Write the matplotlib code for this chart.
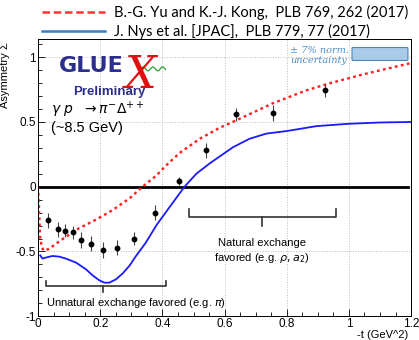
import matplotlib.pyplot as plt
from matplotlib.lines import Line2D
from matplotlib.patches import FancyBboxPatch
import numpy as np

plt.rcParams['font.family'] = ['Liberation Sans', 'DejaVu Sans']
plt.rcParams['mathtext.fontset'] = 'dejavusans'

# measured points (GlueX preliminary)
t_data = [0.033, 0.065, 0.088, 0.113, 0.139, 0.17, 0.209, 0.254, 0.31, 0.375, 0.452, 0.539, 0.638, 0.756, 0.923]
sigma_data = [-0.26, -0.33, -0.34, -0.35, -0.41, -0.44, -0.49, -0.47, -0.40, -0.20, 0.047, 0.28, 0.56, 0.571, 0.745]
sigma_err = [0.06, 0.06, 0.05, 0.05, 0.06, 0.06, 0.06, 0.06, 0.05, 0.06, 0.03, 0.06, 0.05, 0.06, 0.05]

# Yu & Kong curve
t_yu = [0.0, 0.003, 0.006, 0.012, 0.019, 0.035, 0.078, 0.132, 0.186, 0.24, 0.294, 0.336, 0.38,
        0.41, 0.455, 0.52, 0.584, 0.64, 0.68, 0.756, 0.864, 0.94, 1.05, 1.2]
sigma_yu = [0.0, -0.17, -0.38, -0.47, -0.495, -0.48, -0.405, -0.32, -0.255, -0.18, -0.09, 0.0, 0.085,
            0.16, 0.26, 0.37, 0.455, 0.515, 0.56, 0.645, 0.745, 0.80, 0.87, 0.955]

# JPAC curve
t_jpac = [0.0065, 0.014, 0.025, 0.046, 0.068, 0.089, 0.122, 0.154, 0.175, 0.197, 0.213, 0.229, 0.25,
          0.272, 0.294, 0.315, 0.347, 0.38, 0.41, 0.442, 0.471, 0.509, 0.552, 0.573, 0.627, 0.68,
          0.734, 0.8, 0.896, 1.0, 1.1, 1.2]
sigma_jpac = [-0.53, -0.555, -0.547, -0.535, -0.54, -0.555, -0.586, -0.638, -0.684, -0.723, -0.741, -0.741, -0.716,
              -0.67, -0.61, -0.535, -0.43, -0.30, -0.2, -0.095, 0.0, 0.10, 0.18, 0.215, 0.305, 0.37,
              0.41, 0.43, 0.468, 0.486, 0.496, 0.5]

xticks = [0, 0.2, 0.4, 0.6, 0.8, 1.0, 1.2]
xticklabels = ['0', '0.2', '0.4', '0.6', '0.8', '1', '1.2']
yticks = [-1, -0.5, 0, 0.5, 1]
yticklabels = ['-1', '-0.5', '0', '0.5', '1']

fig = plt.figure(figsize=(4.19, 3.4), dpi=100)
ax = fig.add_axes([0.091, 0.070, 0.890, 0.815])

ax.set_xlim(0, 1.2)
ax.set_ylim(-1, 1.14)
ax.grid(True, color='#bbbbbb', linestyle=':', linewidth=0.7)
ax.set_xticks(xticks)
ax.set_xticklabels(xticklabels)
ax.set_yticks(yticks)
ax.set_yticklabels(yticklabels)
ax.set_xticks(np.arange(0, 1.21, 0.05), minor=True)
ax.set_yticks(np.arange(-1, 1.11, 0.1), minor=True)
ax.tick_params(direction='in', labelsize=8.5, length=5, width=0.6, pad=1.5)
ax.tick_params(which='minor', direction='in', length=3, width=0.6)
for s in ax.spines.values():
    s.set_linewidth(0.7)

fig.text(0.975, 0.0, '-t (GeV^2)', fontsize=8, ha='right', va='bottom')
ax.set_ylabel('Asymmetry \u03a3', fontsize=8, loc='top')
ax.yaxis.set_label_coords(-0.075, 0.99)

ax.axhline(0, xmin=0, xmax=0.992, color='black', linewidth=2)

ax.plot(t_yu, sigma_yu, color='#ff2020', linestyle=(0, (1.2, 1.4)), linewidth=1.7)
ax.plot(t_jpac, sigma_jpac, color='#1a1aff', linewidth=1.3)
ax.errorbar(t_data, sigma_data, yerr=sigma_err, fmt='o', color='black', ms=3.2,
            elinewidth=0.8, ecolor='#444444', capsize=0, zorder=5)

# brackets
def bracket(x0, x1, xc, y, up, down):
    ax.plot([x0, x0, x1, x1], [y + up, y, y, y + up], color='#333333', lw=1.2)
    ax.plot([xc, xc], [y, y - down], color='#333333', lw=1.2)

bracket(0.025, 0.41, 0.21, -0.77, 0.04, 0.04)
bracket(0.485, 0.96, 0.72, -0.235, 0.065, 0.065)

ax.text(0.72, -0.50, 'Natural exchange\nfavored (e.g. $\\rho, a_2$)', ha='center', va='center',
        fontsize=8, linespacing=1.3)
ax.text(0.025, -0.895, 'Unnatural exchange favored (e.g. $\\pi$)', ha='left', va='center',
        fontsize=8)

# normalisation uncertainty box
ax.add_patch(FancyBboxPatch((1.015, 0.98), 0.17, 0.09, boxstyle='round,pad=0.005',
                            facecolor='#a9cbe8', edgecolor='#4a86c0', lw=0.8, zorder=4))
ax.text(0.81, 1.05, '\u00b1 7% norm.', color='#4a90d0', fontsize=7, style='italic',
        family='DejaVu Serif', ha='left', va='center')
ax.text(0.81, 0.975, 'uncertainty', color='#4a90d0', fontsize=7, style='italic',
        family='DejaVu Serif', ha='left', va='center')

# GlueX logo
ax.text(0.068, 0.93, 'GLUE', color='#2b2e8c', fontsize=16, fontweight='bold', ha='left', va='center',
        family='DejaVu Sans')
ax.text(0.33, 0.86, 'X', color='#e01010', fontsize=32, style='italic', ha='center', va='center',
        family='DejaVu Serif')
wx = np.linspace(0.33, 0.41, 60)
ax.plot(wx, 0.91 + 0.015 * np.sin((wx - 0.33) * 200), color='#2aa02a', lw=0.9)
ax.text(0.23, 0.73, 'Preliminary', color='#2b2e8c', fontsize=9.5, fontweight='bold', ha='center', va='center')
ax.text(0.04, 0.59, '$\\gamma\\ p\\ \\ \\rightarrow \\pi^{-}\\Delta^{++}$', fontsize=10, ha='left', va='center')
ax.text(0.04, 0.45, '(~8.5 GeV)', fontsize=10.5, ha='left', va='center')

handles = [Line2D([], [], color='#ff3030', linestyle=(0, (3, 1.5)), lw=1.8),
           Line2D([], [], color='#3a7cc8', lw=1.8)]
labels = ['B.-G. Yu and K.-J. Kong,  PLB 769, 262 (2017)',
          'J. Nys et al. [JPAC],  PLB 779, 77 (2017)']
fig.legend(handles, labels, loc='upper left', bbox_to_anchor=(0.07, 1.025), frameon=False,
           prop={'family': 'Lato', 'size': 10.5}, handlelength=4.3, handletextpad=0.6, labelspacing=0.3)

fig.savefig('out.png', dpi=100)
